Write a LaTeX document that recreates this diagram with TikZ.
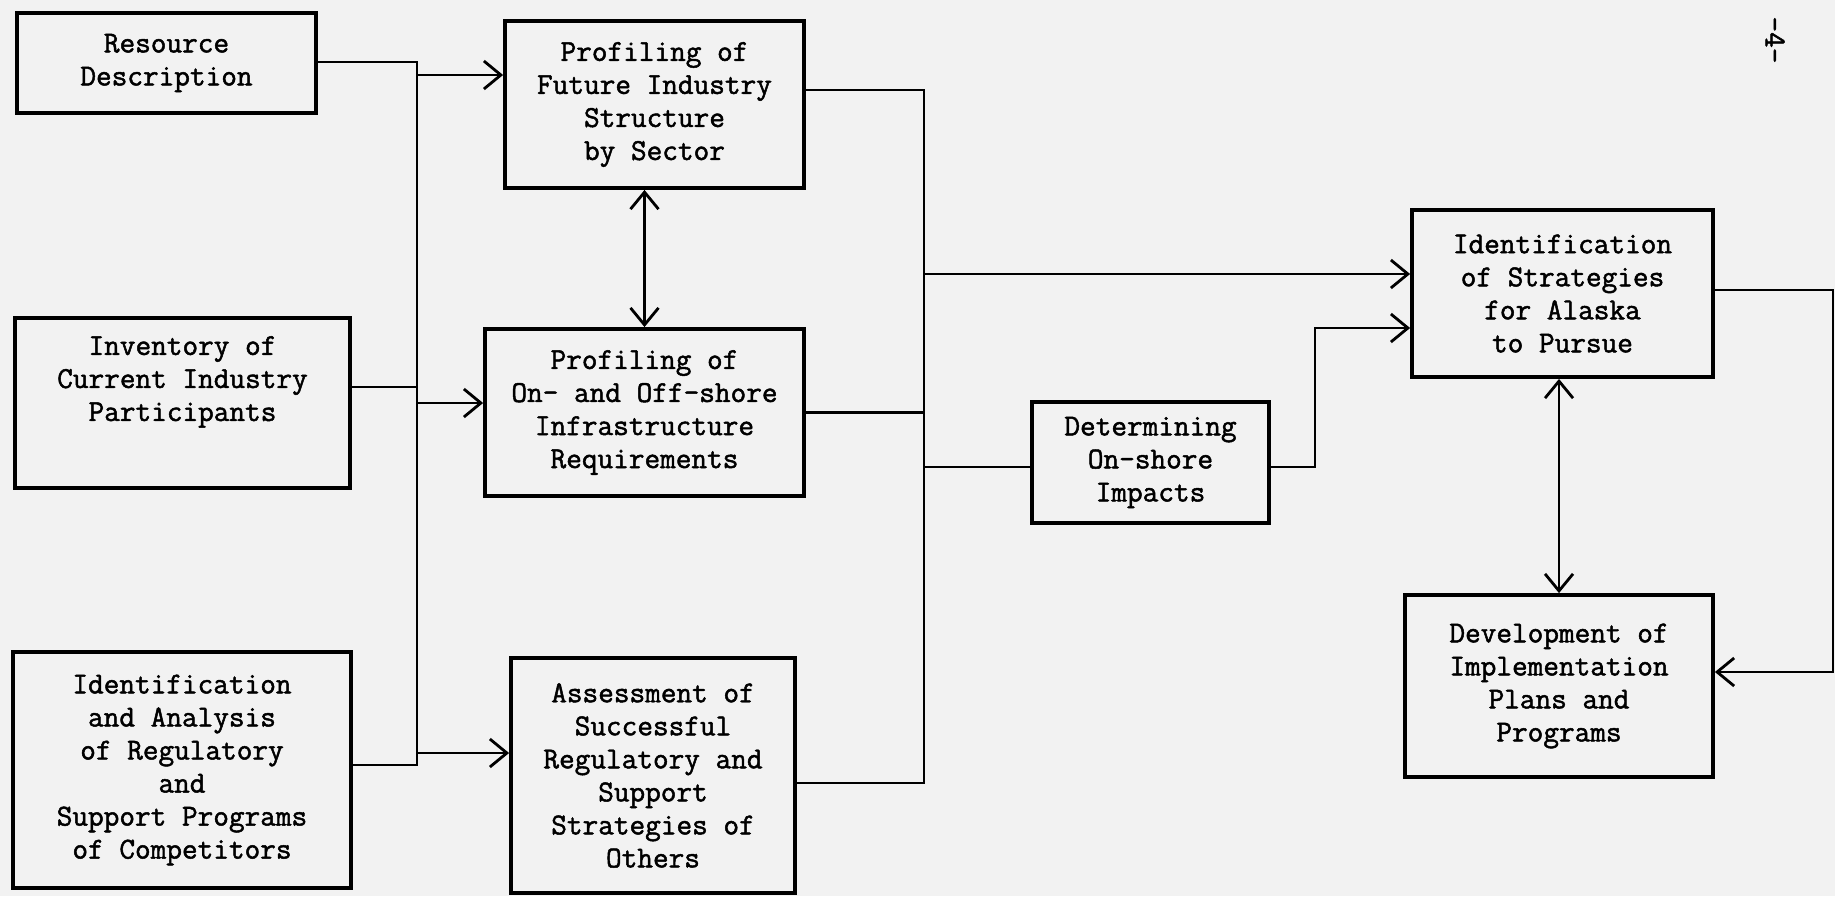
\documentclass[tikz,border=0pt]{standalone}
\usepackage{fontspec}
\newfontfamily\typer{Latin Modern Mono}[FakeBold=1.6]
\usetikzlibrary{arrows.meta}
\begin{document}
\begin{tikzpicture}[x=0.02cm,y=-0.02cm]
		\useasboundingbox (0,0) rectangle (1835,896);
		\fill[black!5] (0,0) rectangle (1835,896);

\begin{scope}[every node/.style={rectangle,draw,line width=2.2pt,align=center,inner sep=0pt,font=\typer\bfseries\fontsize{17.3}{18.8}\selectfont}]
    \node[minimum width=5.98cm,minimum height=2cm] (res) at (166.5,63) {Resource\\Description};
    \node[minimum width=5.98cm,minimum height=3.34cm] (fut) at (654.5,104.5) {Profiling of\\Future Industry\\Structure\\by Sector};
    \node[minimum width=6.7cm,minimum height=3.4cm] (inv) at (182.5,403) {Inventory of\\Current Industry\\Participants\\[9pt]\mbox{}};
    \node[minimum width=6.38cm,minimum height=3.34cm] (infra) at (644.5,412.5) {Profiling of\\On- and Off-shore\\Infrastructure\\Requirements};
    \node[minimum width=6.76cm,minimum height=4.72cm] (reg) at (182,770) {Identification\\and Analysis\\of Regulatory\\and\\Support Programs\\of Competitors};
    \node[minimum width=5.68cm,minimum height=4.7cm] (assess) at (653,775.5) {Assessment of\\Successful\\Regulatory and\\Support\\Strategies of\\Others};
    \node[minimum width=4.74cm,minimum height=2.42cm] (impact) at (1150.5,462.5) {Determining\\On-shore\\Impacts};
    \node[minimum width=6.02cm,minimum height=3.34cm] (strat) at (1562.5,293.5) {Identification\\of Strategies\\for Alaska\\to Pursue};
    \node[minimum width=6.16cm,minimum height=3.64cm] (plans) at (1559,686) {Development of\\Implementation\\Plans and\\Programs};
\end{scope}

    \node[rotate=-90,font=\typer\bfseries\fontsize{17.3}{18.8}\selectfont] (page) at (1775,40) {-4-};

    % collecting lines
    \coordinate (ba) at (417,62);
    \coordinate (bb) at (417,75);
    \coordinate (bc) at (417,387);
    \coordinate (bd) at (417,403);
    \coordinate (be) at (417,753);
    \coordinate (bf) at (417,765);
    \coordinate (ca) at (924,90);
    \coordinate (cb) at (924,274);
    \coordinate (cc) at (924,467);
    \coordinate (cd) at (924,783);
    \coordinate (rise) at (1315,328);
    \coordinate (fa) at (1833,290);
    \coordinate (fb) at (1833,672);

\begin{scope}[line width=1.6pt,>={Straight Barb[length=0.34cm,width=0.56cm]}]
    \draw (ba -| res.east) -- (ba) -- (bf) -- (bf -| reg.east);
    \draw (bc -| inv.east) -- (bc);
    \draw[->] (bb) -- (bb -| fut.west);
    \draw[->] (bd) -- (bd -| infra.west);
    \draw[->] (be) -- (be -| assess.west);
    \path [<->] (infra.north |- fut.south) edge (infra.north);

    \draw (ca -| fut.east) -- (ca) -- (cd) -- (cd -| assess.east);
    \draw (infra.east) -- (infra.east -| ca);
    \draw[->] (cb) -- (cb -| strat.west);
    \draw (cc) -- (cc -| impact.west);
    \draw[->] (cc -| impact.east) -| (rise) -- (rise -| strat.west);

    \draw[->] (fa -| strat.east) -- (fa) -- (fb) -- (fb -| plans.east);
    \path [<->] (plans.north |- strat.south) edge (plans.north);
\end{scope}
	\end{tikzpicture}
\end{document}
